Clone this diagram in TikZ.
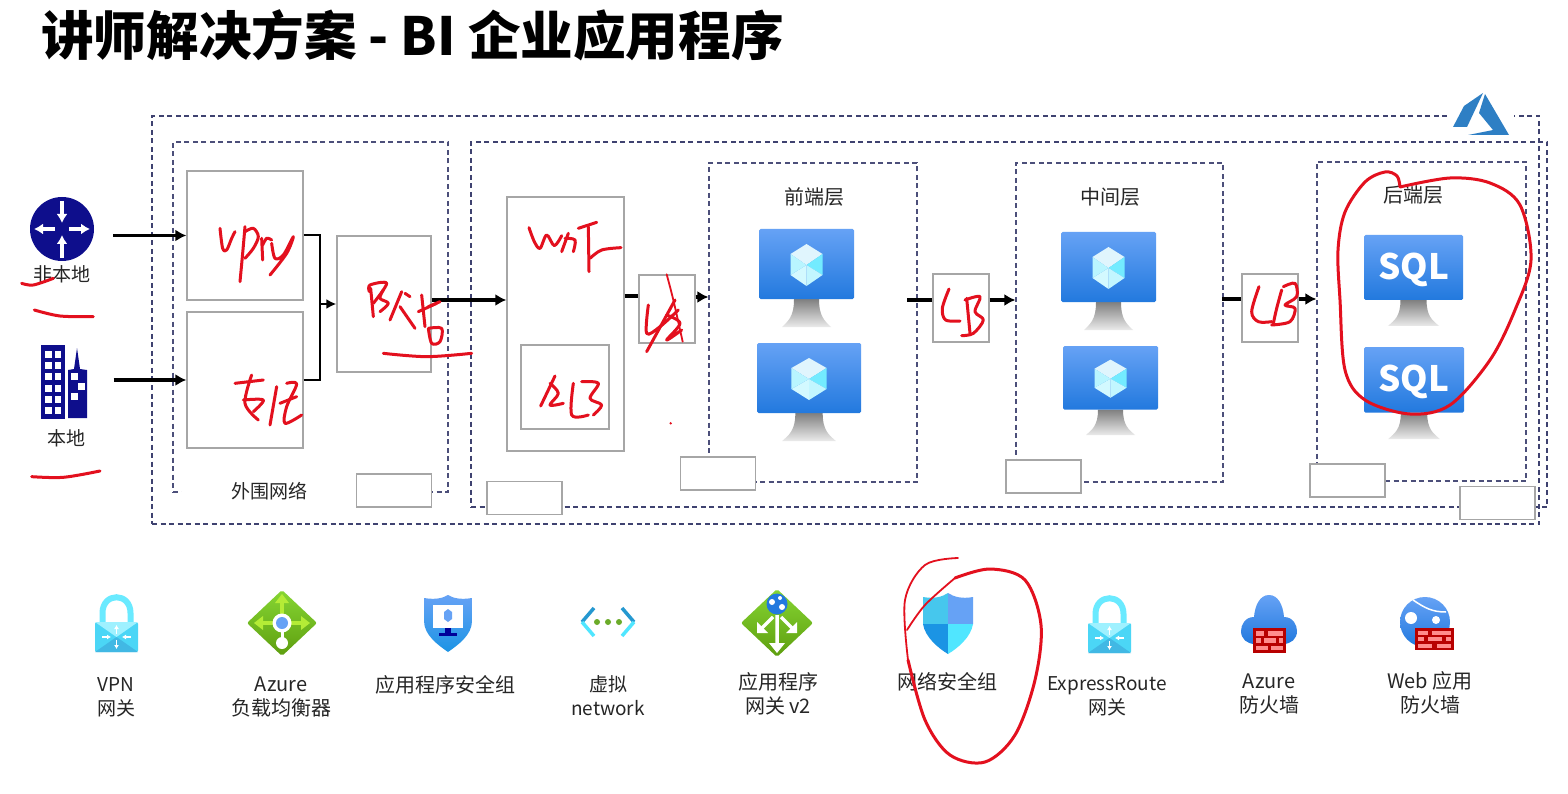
\documentclass[tikz,border=0pt]{standalone}
\usepackage{fontspec}
\setmainfont{Noto Sans CJK SC}
\usetikzlibrary{arrows.meta}
\definecolor{dashc}{HTML}{3F4270}
\definecolor{dashi}{HTML}{4C4F7A}
\definecolor{boxc}{HTML}{A6A6A6}
\definecolor{inkc}{HTML}{E3101E}
\definecolor{navy}{HTML}{0E0E8C}
\definecolor{azb}{HTML}{2E7FC4}
\definecolor{vmtop}{HTML}{66A2F5}
\definecolor{vmbot}{HTML}{2279DE}
\definecolor{cy}{HTML}{50E6FF}
\definecolor{lgtop}{HTML}{86D633}
\definecolor{lgbot}{HTML}{5E9E0F}
\definecolor{lgarrow}{HTML}{B4EC36}
\tikzset{
  zone/.style={draw=dashc,line width=1.3pt,dash pattern=on 5pt off 3.5pt,inner sep=0pt},
  zonei/.style={zone,draw=dashi,line width=1.2pt},
  graybox/.style={draw=boxc,line width=1.3pt,inner sep=0pt},
  emptybox/.style={graybox,fill=white,minimum width=75pt,minimum height=33pt},
  label/.style={font=\fontsize{20}{24}\selectfont,text=black!85,align=center,inner sep=0pt},
  labelb/.style={label,font=\fontsize{19}{24}\selectfont},
  flow/.style={black,line width=3.5pt,-{Latex[length=11pt,width=12pt]}},
  flowthin/.style={black,line width=2pt},
  tick/.style={black,line width=3.5pt},
  ink/.style={inkc,line width=3pt,line cap=round,line join=round},
  inkthin/.style={inkc,line width=1.8pt,line cap=round,line join=round},
  rarrow/.style={white,line width=4pt,-{Latex[length=9pt,width=11pt]}}
}
\newcommand{\ink}[1]{\draw[ink] plot[smooth,tension=.55] coordinates {#1};}
\newcommand{\inkt}[1]{\draw[inkthin] plot[smooth,tension=.55] coordinates {#1};}
\newcommand{\vmbase}[4]{%
  \begin{scope}[shift={(#1,#2)},xscale=#3/95,yscale=#4/98]
    \shade[top color=black!50,bottom color=black!8] (35,70) -- (60,70) .. controls (60,88) and (66,92) .. (72,98) -- (23,98) .. controls (29,92) and (35,88) .. (35,70) -- cycle;
    \shade[top color=vmtop,bottom color=vmbot,rounded corners=1.5pt] (0,0) rectangle (95,70);
  \end{scope}}
\newcommand{\vmcube}[4]{%
  \begin{scope}[shift={(#1,#2)},xscale=#3/95,yscale=#4/98]
    \fill[cyan!12!white] (47.5,15) -- (63.5,25) -- (47.5,36) -- (31.5,25) -- cycle;
    \fill[cy!80!white] (63.5,25) -- (63.5,46) -- (47.5,36) -- cycle;
    \fill[cy!35!white] (63.5,46) -- (47.5,57) -- (47.5,36) -- cycle;
    \fill[cy!25!white] (47.5,57) -- (31.5,46) -- (47.5,36) -- cycle;
    \fill[cy!40!white] (31.5,46) -- (31.5,25) -- (47.5,36) -- cycle;
  \end{scope}}
\newcommand{\lockicon}[2]{%
  \begin{scope}[shift={(#1,#2)}]
    \draw[cy!85!white,line width=6pt] (7.5,30) -- (7.5,18) .. controls (7.5,-3) and (35.5,-3) .. (35.5,18) -- (35.5,30);
    \fill[cy!85!azb,rounded corners=1.5pt] (0,27) rectangle (43,57);
    \fill[azb!45!cy] (0,57) -- (21.5,42) -- (43,57) -- cycle;
    \fill[cy!55!white] (0,27) -- (21.5,42) -- (43,27) -- cycle;
    \draw[white,line width=1.4pt,-{Latex[length=4pt,width=5pt]}] (21.5,39) -- (21.5,30);
    \draw[white,line width=1.4pt,-{Latex[length=4pt,width=5pt]}] (21.5,45) -- (21.5,54);
    \draw[white,line width=1.4pt,-{Latex[length=4pt,width=5pt]}] (7,42) -- (16,42);
    \draw[white,line width=1.4pt,-{Latex[length=4pt,width=5pt]}] (36,42) -- (27,42);
  \end{scope}}
\newcommand{\brick}[4]{%
  \begin{scope}[shift={(#1,#2)},xscale=#3/38,yscale=#4/24]
    \fill[black!15!red!85!black] (0,0) rectangle (38,24);
    \foreach \a/\b/\c in {3/3/13,17/3/35,3/10/9,13/10/26,30/10/35,3/17/17,21/17/35}{
      \fill[red!45!white] (\a,\b) rectangle (\c,\b+4.5);}
  \end{scope}}
\begin{document}
\begin{tikzpicture}[x=1pt,y=-1pt]
\path[use as bounding box,fill=white] (0,0) rectangle (1568,794);

% title
\node[anchor=west,inner sep=0pt,font=\bfseries\fontsize{52.6}{60}\selectfont] (title) at (41,35) {讲师解决方案 - BI 企业应用程序};

% zones
\node[zone,minimum width=1387pt,minimum height=408pt] (azurez) at (845.5,320) {};
\node[zonei,minimum width=275pt,minimum height=350pt] (perim) at (310.5,317) {};
\node[zone,minimum width=1076pt,minimum height=365pt] (appz) at (1009,324.5) {};
\node[zonei,minimum width=208pt,minimum height=319pt] (front) at (813,322.5) {};
\node[zonei,minimum width=207pt,minimum height=319pt] (mid) at (1119.5,322.5) {};
\node[zonei,minimum width=209pt,minimum height=319pt] (back) at (1421.5,321.5) {};
\node[labelb,fill=white,minimum width=175pt,minimum height=24pt] (permlab) at (269,491) {外围网络};

% azure logo
\fill[white] (1448,90) rectangle (1514,122);
\fill[azb] (1483,93) -- (1464,106) -- (1453,127) -- (1467,127) -- cycle;
\fill[azb] (1485,94) -- (1509,135) -- (1468,135) -- (1493,130) -- (1479,113) -- cycle;

% gray boxes
\node[graybox,minimum width=116pt,minimum height=129pt] (vpn) at (245,235.5) {};
\node[graybox,minimum width=116pt,minimum height=136pt] (er) at (245,380) {};
\node[graybox,minimum width=94pt,minimum height=136pt] (fw) at (384,304) {};
\node[graybox,minimum width=117pt,minimum height=254pt] (waf) at (565.5,324) {};
\node[graybox,minimum width=88pt,minimum height=84pt] (alb) at (565,387) {};
\node[graybox,fill=white,minimum width=56pt,minimum height=68pt] (lba) at (667,309) {};
\node[graybox,fill=white,minimum width=56pt,minimum height=68pt] (lbb) at (961,308) {};
\node[graybox,fill=white,minimum width=56pt,minimum height=68pt] (lbc) at (1270,308) {};

% empty tag boxes
\node[emptybox] (t1) at (394,490.5) {};
\node[emptybox] (t2) at (524.5,498) {};
\node[emptybox] (t3) at (718,473.5) {};
\node[emptybox] (t4) at (1043.5,476.5) {};
\node[emptybox] (t5) at (1347.5,480.5) {};
\node[emptybox] (t6) at (1497.5,503) {};

% left sources
\node[circle,fill=navy,minimum size=64pt,inner sep=0pt] (router) at (62,229) {};
\draw[rarrow] (62,201) -- (62,223);
\draw[rarrow] (62,258) -- (62,235);
\draw[rarrow] (55,229) -- (34,229);
\draw[rarrow] (69,229) -- (90,229);
\node[labelb] (nonlocal) at (62,274) {非本地};
\node[fill=navy,minimum width=24pt,minimum height=74pt,inner sep=0pt] (bldg) at (52.5,381.5) {};
\foreach \r in {0,1,2,3,4,5}{\foreach \c in {0,1}{
  \fill[white] (45+\c*9.5,351+\r*11.2) rectangle ++(6.5,7);}}
\fill[navy] (68,418) -- (68,370) -- (74,369) -- (77,348) -- (80,369) -- (87,370) -- (87,418) -- cycle;
\fill[white] (71,373) rectangle ++(6.5,6.5);
\fill[white] (78,383) rectangle ++(6.5,6.5);
\fill[white] (71,393) rectangle ++(6.5,6.5);
\node[labelb] (local) at (66,438) {本地};

% connectors
\draw[flow] ([xshift=19pt,yshift=-6.5pt]router.east) -- (vpn.west);
\coordinate (bend) at (320,304);
\draw[flow] ([xshift=49pt,yshift=1.5pt]bldg.east) -- (er.west);
\draw[flowthin] (vpn.east) -| (bend);
\draw[flowthin] (er.east) -| (bend);
\draw[black,line width=2pt,-{Latex[length=10pt,width=10pt]}] (bend) -- (fw.west);
\draw[flow] ([yshift=4pt]fw.east) -- ([yshift=24pt]waf.west);
\draw[tick] ([yshift=28pt]waf.east) -- ([yshift=13pt]lba.west);
\draw[flow] ([yshift=12pt]lba.east) -- ([yshift=25.5pt]front.west);
\coordinate (fr) at (907,300);
\draw[tick] (fr) -- (lbb.west |- fr);
\draw[flow] ([yshift=8pt]lbb.east) -- ([yshift=22.5pt]mid.west);
\coordinate (mr) at (1222,299);
\draw[tick] (mr) -- (lbc.west |- mr);
\draw[flow] ([yshift=9pt]lbc.east) -- ([yshift=22.5pt]back.west);

% tier labels and VMs
\node[label] (ft) at (814,197) {前端层};
\node[label] (mt) at (1110,197) {中间层};
\node[label] (bt) at (1413,195) {后端层};
\vmbase{759}{229}{95}{98}\vmcube{759}{229}{95}{98}
\vmbase{757}{343}{104}{98}\vmcube{757}{343}{104}{98}
\vmbase{1061}{232}{95}{98}\vmcube{1061}{232}{95}{98}
\vmbase{1063}{346}{95}{89}\vmcube{1063}{346}{95}{89}
\vmbase{1364}{235}{99}{91}
\vmbase{1364}{347}{100}{92}
\node[font=\bfseries\fontsize{35}{40}\selectfont,text=white,inner sep=0pt] (sqla) at (1414,270) {SQL};
\node[font=\bfseries\fontsize{35}{40}\selectfont,text=white,inner sep=0pt] (sqlb) at (1414,382) {SQL};

% bottom icons
\lockicon{95}{595}
\lockicon{1088}{596}
% load balancer
\begin{scope}[shift={(282,623)}]
  \shade[top color=lgtop,bottom color=lgbot,rounded corners=2pt] (0,-33) -- (35,0) -- (0,33) -- (-35,0) -- cycle;
  \draw[lgarrow,line width=3.5pt] (0,-22) -- (0,-8) (-24,0) -- (24,0);
  \fill[lgarrow] (0,-29) -- (7,-20) -- (-7,-20) -- cycle;
  \fill[lgarrow] (-28,0) -- (-19,-7) -- (-19,7) -- cycle;
  \fill[lgarrow] (28,0) -- (19,-7) -- (19,7) -- cycle;
  \draw[white,line width=3pt] (0,0) -- (0,18);
  \fill[white] (0,0) circle[radius=9.5];
  \fill[vmtop] (0,0) circle[radius=6];
  \fill[white] (0,20) circle[radius=6];
\end{scope}
% app security group
\begin{scope}[shift={(448,595)}]
  \shade[top color=vmtop,bottom color=vmbot!80!cyan] (-24,3) .. controls (-12,5) and (-5,3) .. (0,0) .. controls (5,3) and (12,5) .. (24,3) -- (24,26) .. controls (24,40) and (10,50) .. (0,57) .. controls (-10,50) and (-24,40) .. (-24,26) -- cycle;
  \fill[white] (-15,10) rectangle (15,33);
  \fill[blue!60!black] (-3,33) rectangle (3,38);
  \fill[blue!60!black] (-9,38) rectangle (9,41);
  \fill[vmtop] (-4,17) -- (0,14) -- (4,17) -- (4,24) -- (0,27) -- (-4,24) -- cycle;
\end{scope}
% vnet
\begin{scope}[shift={(608,622)}]
  \draw[azb!80!cyan,line width=3.5pt] (-14,-14) -- (-26,0);
  \draw[cy,line width=3.5pt] (-26,0) -- (-14,14);
  \draw[azb!80!cyan,line width=3.5pt] (14,-14) -- (26,0);
  \draw[cy,line width=3.5pt] (26,0) -- (14,14);
  \fill[lgtop!80!black] (-11,0) circle[radius=3] (0,0) circle[radius=3] (11,0) circle[radius=3];
\end{scope}
% app gateway
\begin{scope}[shift={(777,623)}]
  \shade[top color=lgtop,bottom color=lgbot,rounded corners=2pt] (0,-34) -- (36,0) -- (0,34) -- (-36,0) -- cycle;
  \draw[white,line width=3.5pt] (0,-8) -- (0,22) (-4,-6) -- (-16,6) (4,-6) -- (16,6);
  \fill[white] (0,30) -- (-8,20) -- (8,20) -- cycle;
  \fill[white] (-20,10) -- (-20,-1) -- (-9,10) -- cycle;
  \fill[white] (20,10) -- (20,-1) -- (9,10) -- cycle;
  \fill[vmbot] (0,-19) circle[radius=10.5];
  \fill[white] (-5,-21) circle[radius=3] (5,-16) circle[radius=3] (3,-25) circle[radius=2];
\end{scope}
% network security group
\begin{scope}[shift={(948,593)}]
  \fill[cy!70!azb] (-25,4) .. controls (-14,6) and (-6,4) .. (0,0) -- (0,31) -- (-25,31) -- cycle;
  \fill[vmtop] (25,4) .. controls (14,6) and (6,4) .. (0,0) -- (0,31) -- (25,31) -- cycle;
  \fill[vmbot!80!cyan] (-25,31) .. controls (-23,44) and (-10,55) .. (0,61) -- (0,31) -- cycle;
  \fill[cy] (25,31) .. controls (23,44) and (10,55) .. (0,61) -- (0,31) -- cycle;
\end{scope}
% azure firewall
\begin{scope}[shift={(1269,595)}]
  \shade[top color=vmtop,bottom color=vmbot] (0,0) .. controls (9,0) and (14,10) .. (15,22) .. controls (24,22) and (28,30) .. (28,36) .. controls (28,44) and (22,49) .. (14,49) -- (-14,49) .. controls (-22,49) and (-28,44) .. (-28,36) .. controls (-28,30) and (-24,22) .. (-15,22) .. controls (-14,10) and (-9,0) .. (0,0) -- cycle;
\end{scope}
\brick{1253}{628}{33}{25}
% waf
\shade[top color=vmtop,bottom color=vmbot] (1425,622) circle[radius=25];
\fill[white] (1411,618) circle[radius=6];
\fill[white] (1436,620) circle[radius=4];
\draw[white,line width=1.5pt] (1413,600) .. controls (1425,608) and (1432,612) .. (1446,612);
\brick{1415}{628}{39}{22}

% bottom labels
\node[labelb] (l1) at (116,697) {VPN\\网关};
\node[label] (l2) at (281,697) {Azure\\负载均衡器};
\node[label] (l3) at (445,685) {应用程序安全组};
\node[labelb] (l4) at (608,696) {虚拟\\network};
\node[label] (l5) at (778,694) {应用程序\\网关 v2};
\node[label] (l6) at (947,682) {网络安全组};
\node[labelb] (l7) at (1107,696) {ExpressRoute\\网关};
\node[label] (l8) at (1269,693.5) {Azure\\防火墙};
\node[label] (l9) at (1430,693) {Web 应用\\防火墙};

% red handwriting
\begin{scope}[shift={(0,130)},x=0.33333pt,y=-0.33333pt]
  \ink{(660,295)(668,355)(680,360)(695,325)(705,305)}
  \ink{(735,290)(728,370)(720,455)}
  \ink{(735,305)(760,295)(775,320)(760,355)(735,385)}
  \ink{(785,325)(788,390)}
  \ink{(788,345)(800,325)(815,330)}
  \ink{(815,340)(825,385)(850,375)(880,320)(860,370)(810,435)}
  \ink{(705,760)(790,750)}
  \ink{(755,735)(735,820)(775,870)}
  \ink{(730,810)(790,810)(760,845)}
  \ink{(830,770)(810,885)}
  \ink{(860,760)(890,762)(860,830)(855,880)(905,855)}
  \ink{(840,820)(890,800)}
  \ink{(65,460)(100,465)(160,445)}
  \ink{(103,540)(180,558)(280,560)}
  \ink{(95,1040)(190,1042)(300,1023)}
\end{scope}
\begin{scope}[shift={(360,270)},x=0.33333pt,y=-0.33333pt]
  \ink{(28,65)(30,45)(80,40)(40,100)}
  \ink{(32,55)(40,140)}
  \ink{(70,60)(60,85)(85,100)(60,125)}
  \ink{(125,65)(90,150)}
  \ink{(120,110)(165,175)}
  \ink{(135,70)(150,80)}
  \ink{(185,75)(195,170)}
  \ink{(175,125)(230,100)}
  \ink{(205,110)(240,95)}
  \ink{(205,175)(245,175)(240,215)(215,220)(205,175)}
  \ink{(70,250)(200,260)(335,250)}
\end{scope}
\begin{scope}[shift={(515,215)},x=0.33333pt,y=-0.33333pt]
  \ink{(42,38)(58,80)(75,100)(95,60)(118,92)(140,62)}
  \ink{(160,55)(140,110)}
  \ink{(150,70)(180,75)(175,110)}
  \ink{(190,40)(245,22)}
  \ink{(220,35)(222,170)}
  \ink{(225,130)(260,105)(318,98)}
\end{scope}
\begin{scope}[shift={(470,130)},x=0.33333pt,y=-0.33333pt]
  \ink{(255,738)(212,828)}
  \ink{(240,760)(265,790)(240,825)(280,820)}
  \ink{(310,760)(305,855)(355,855)}
  \ink{(335,755)(385,760)(360,805)(395,825)(370,855)}
  \inkt{(590,433)(610,510)(638,635)}
  \ink{(535,525)(530,610)(570,590)(625,540)}
  \ink{(615,510)(530,665)}
  \ink{(590,555)(630,580)(590,630)(635,600)}
  \fill[inkc] (602,880) circle[radius=4];
\end{scope}
\begin{scope}[shift={(925,265)},x=0.33333pt,y=-0.33333pt]
  \ink{(72,72)(52,130)(62,165)(105,168)}
  \ink{(125,100)(135,205)}
  \ink{(120,105)(165,95)(150,140)(175,165)(145,205)(110,212)}
\end{scope}
\begin{scope}[shift={(1235,265)},x=0.33333pt,y=-0.33333pt]
  \ink{(72,65)(50,140)(70,170)(110,170)}
  \ink{(140,75)(125,130)(115,175)}
  \ink{(145,65)(180,55)(185,95)(150,120)(180,130)(165,170)(110,180)}
\end{scope}
% circles
\ink{(1400,187)(1397,176)(1385,172)(1365,182)(1345,212)(1338,250)(1340,300)(1345,370)(1365,400)(1410,414)(1450,405)(1490,360)(1515,310)(1531,260)(1520,205)(1490,183)(1450,178)(1400,187)}
\inkt{(958,558)(925,565)(905,600)(908,660)}
\ink{(908,660)(925,720)(950,755)(985,762)(1015,735)(1035,680)(1041,625)(1025,580)(990,569)(955,578)}
\inkt{(955,578)(925,605)(907,630)}
\end{tikzpicture}
\end{document}
